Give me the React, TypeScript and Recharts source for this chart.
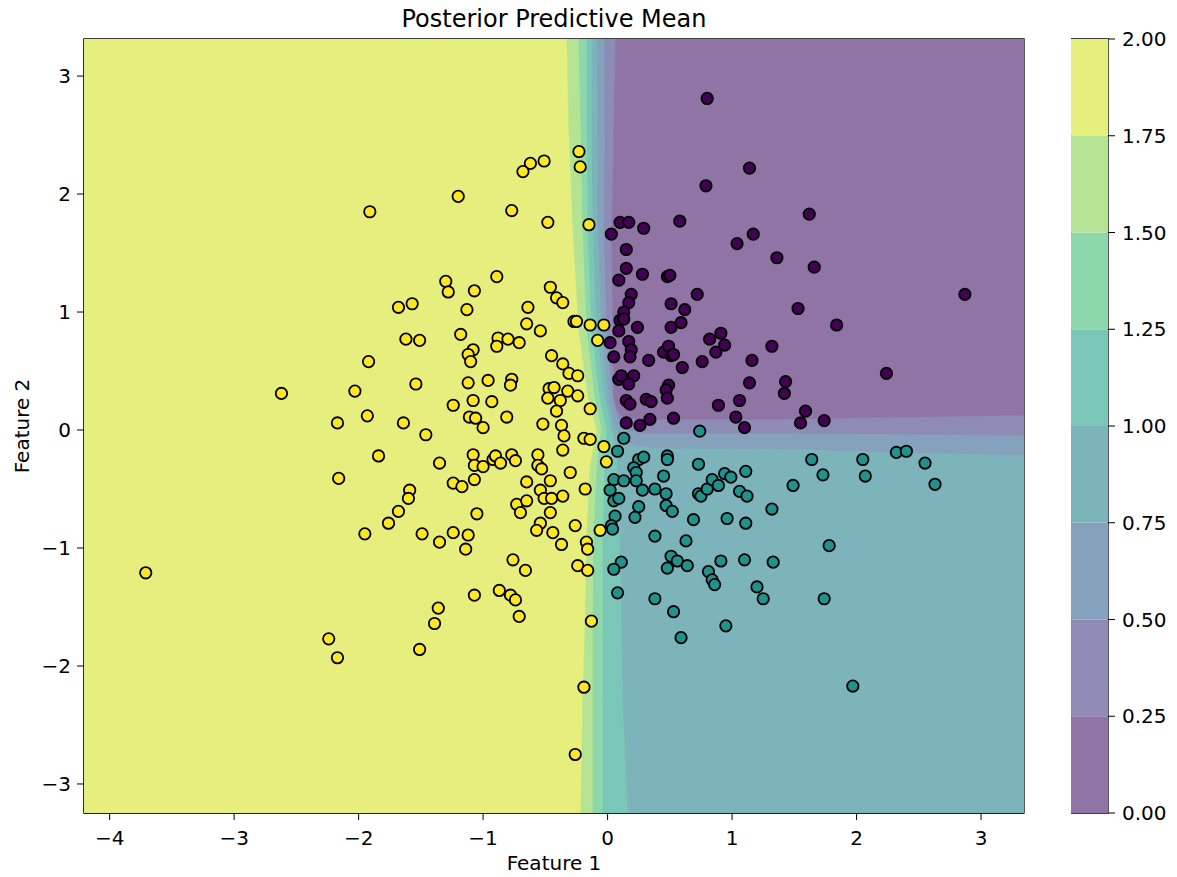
import {
  Bar, BarChart, ReferenceArea, Scatter, ScatterChart, XAxis, YAxis,
} from 'recharts'

// plot window (data units)
const X_MIN = -4.206
const X_MAX = 3.345
const Y_MIN = -3.246
const Y_MAX = 3.314

const xTicks = [-4, -3, -2, -1, 0, 1, 2, 3]
const yTicks = [-3, -2, -1, 0, 1, 2, 3]
const levels = [0, 0.25, 0.5, 0.75, 1, 1.25, 1.5, 1.75, 2]

// viridis band colours at alpha 0.6 over white, lowest band first
const bandColors = ['#9074a5', '#8e8cb6', '#85a1bb', '#7db4bb', '#7ac6b7', '#8cd7ab', '#b4e493', '#e6ee7d']
const classColors = ['#440154', '#21918c', '#fde725']

// contour lines of the predictive mean, top to bottom
const level175 = [[-0.326, 3.314], [-0.310, 2.542], [-0.278, 1.695], [-0.230, 0.847], [-0.157, 0.280], [-0.085, 0], [-0.101, -0.085], [-0.141, -0.314], [-0.165, -0.873], [-0.182, -1.720], [-0.198, -2.288], [-0.214, -3.246]]
const level150 = [[-0.230, 3.314], [-0.214, 2.542], [-0.198, 1.695], [-0.165, 0.847], [-0.101, 0.280], [-0.045, 0], [-0.061, -0.085], [-0.085, -0.314], [-0.109, -0.873], [-0.117, -1.720], [-0.117, -2.288], [-0.117, -3.246]]
const level125 = [[-0.165, 3.314], [-0.165, 2.542], [-0.157, 1.695], [-0.125, 0.847], [-0.061, 0.280], [-0.005, 0], [-0.005, -0.085], [-0.021, -0.314], [-0.037, -0.873], [-0.037, -1.720], [-0.037, -2.288], [-0.037, -3.246]]
const level100 = [[-0.125, 3.314], [-0.125, 2.542], [-0.117, 1.695], [-0.085, 0.847], [-0.021, 0.280], [0.035, 0], [0.076, -0.169], [0.084, -0.314], [0.100, -0.873], [0.116, -1.720], [0.124, -2.288], [0.164, -3.246]]
const level075 = [[-0.085, 3.314], [-0.077, 2.542], [-0.077, 1.695], [-0.045, 0.847], [0.011, 0.280], [0.043, 0.085], [0.100, -0.059], [0.196, -0.127], [0.421, -0.153], [1.545, -0.161], [2.349, -0.186], [3.345, -0.212]]
const level050 = [[-0.021, 3.314], [-0.021, 2.542], [-0.029, 1.695], [-0.005, 0.847], [0.043, 0.280], [0.076, 0.127], [0.124, 0.017], [0.260, -0.025], [1.385, -0.025], [2.349, -0.034], [3.345, -0.042]]
const level025 = [[0.067, 3.314], [0.051, 2.542], [0.035, 1.695], [0.043, 0.847], [0.051, 0.280], [0.076, 0.169], [0.124, 0.110], [0.260, 0.093], [1.385, 0.093], [2.349, 0.110], [3.345, 0.127]]

// observed points, one list per class
const class0 = [[0.80, 2.81], [1.14, 2.22], [0.79, 2.07], [1.62, 1.83], [0.58, 1.77], [0.10, 1.76], [0.17, 1.76], [0.03, 1.66], [0.29, 1.71], [1.17, 1.66],
  [1.04, 1.58], [1.36, 1.46], [1.66, 1.38], [0.15, 1.53], [0.15, 1.37], [0.09, 1.27], [0.28, 1.32], [0.48, 1.30], [0.50, 1.31], [0.72, 1.15],
  [0.19, 1.15], [0.17, 1.08], [0.51, 1.07], [0.62, 1.02], [0.13, 1.00], [0.10, 0.93], [0.13, 0.94], [1.53, 1.03], [1.84, 0.89], [0.59, 0.91],
  [0.51, 0.87], [0.24, 0.87], [0.09, 0.84], [0.02, 0.74], [0.17, 0.75], [0.19, 0.68], [0.18, 0.62], [0.05, 0.62], [0.33, 0.59], [0.45, 0.66],
  [0.49, 0.71], [0.51, 0.63], [0.53, 0.64], [0.60, 0.53], [0.76, 0.58], [0.82, 0.77], [0.91, 0.82], [0.94, 0.72], [0.87, 0.66], [1.16, 0.59],
  [1.32, 0.71], [0.09, 0.43], [0.11, 0.46], [0.21, 0.46], [0.17, 0.39], [0.49, 0.38], [0.47, 0.34], [0.48, 0.27], [0.31, 0.26], [0.35, 0.24],
  [0.15, 0.25], [0.18, 0.22], [1.14, 0.40], [1.43, 0.41], [1.42, 0.31], [0.89, 0.21], [1.06, 0.25], [1.59, 0.16], [0.15, 0.06], [0.26, 0.04],
  [0.34, 0.09], [0.53, 0.10], [1.03, 0.11], [1.10, 0.02], [1.55, 0.06], [1.74, 0.08], [2.87, 1.15], [2.24, 0.48]]

const class1 = [[0.74, -0.01], [0.13, -0.07], [0.08, -0.18], [0.25, -0.25], [0.29, -0.23], [0.48, -0.22], [0.48, -0.25], [0.21, -0.32], [0.23, -0.36], [0.23, -0.43],
  [0.05, -0.42], [0.13, -0.43], [0.02, -0.51], [0.05, -0.60], [0.09, -0.58], [0.28, -0.51], [0.38, -0.50], [0.45, -0.39], [0.47, -0.54], [0.47, -0.64],
  [0.52, -0.69], [0.25, -0.65], [0.22, -0.74], [0.06, -0.73], [0.03, -0.81], [0.04, -0.84], [0.73, -0.29], [0.73, -0.54], [0.75, -0.56], [0.80, -0.50],
  [0.84, -0.42], [0.89, -0.47], [0.94, -0.37], [0.99, -0.40], [1.11, -0.35], [1.06, -0.52], [1.12, -0.56], [0.69, -0.76], [0.96, -0.75], [1.11, -0.79],
  [1.32, -0.67], [1.49, -0.47], [1.64, -0.25], [1.73, -0.38], [0.38, -0.90], [0.63, -0.94], [0.51, -1.07], [0.56, -1.11], [0.48, -1.17], [0.64, -1.15],
  [0.81, -1.20], [0.84, -1.27], [0.86, -1.31], [0.91, -1.11], [1.10, -1.10], [1.33, -1.12], [1.78, -0.98], [0.11, -1.12], [0.05, -1.18], [0.08, -1.38],
  [0.38, -1.43], [1.20, -1.33], [1.25, -1.43], [1.74, -1.43], [0.53, -1.54], [0.95, -1.66], [0.59, -1.76], [1.97, -2.17], [2.05, -0.25], [2.07, -0.39],
  [2.32, -0.19], [2.40, -0.18], [2.55, -0.28], [2.63, -0.46]]

const class2 = [[-0.23, 2.36], [-0.22, 2.23], [-0.62, 2.26], [-0.51, 2.28], [-0.68, 2.19], [-1.20, 1.98], [-0.77, 1.86], [-0.48, 1.76], [-0.15, 1.74],
  [-1.30, 1.26], [-1.28, 1.17], [-0.89, 1.30], [-1.07, 1.18], [-0.46, 1.21], [-0.41, 1.12], [-0.36, 1.08], [-1.68, 1.04], [-1.57, 1.07], [-1.13, 1.02], [-0.64, 1.04],
  [-0.65, 0.90], [-0.54, 0.84], [-0.27, 0.92], [-0.25, 0.92], [-0.14, 0.89], [-0.03, 0.89], [-0.08, 0.76], [-1.18, 0.81], [-1.62, 0.77], [-1.51, 0.76],
  [-0.88, 0.78], [-0.80, 0.77], [-0.71, 0.74], [-0.89, 0.71], [-1.08, 0.68], [-1.12, 0.64], [-1.10, 0.58], [-0.45, 0.63], [-0.36, 0.56], [-0.31, 0.48],
  [-0.24, 0.46], [-1.54, 0.39], [-1.12, 0.40], [-0.96, 0.42], [-0.77, 0.43], [-0.78, 0.38], [-0.47, 0.35], [-0.43, 0.36], [-0.32, 0.33], [-0.24, 0.29],
  [-0.48, 0.27], [-0.38, 0.25], [-1.08, 0.25], [-0.93, 0.24], [-1.24, 0.21], [-0.41, 0.16], [-0.14, 0.18], [-1.64, 0.06], [-1.11, 0.11], [-1.06, 0.10],
  [-1.00, 0.02], [-0.81, 0.11], [-0.52, 0.05], [-0.37, 0.04], [-1.46, -0.04], [-0.35, -0.05], [-0.19, -0.07], [-0.14, -0.08],
  [-0.03, -0.14], [-0.01, -0.27], [-1.35, -0.28], [-1.08, -0.21], [-1.07, -0.30], [-1.00, -0.31], [-0.92, -0.25], [-0.90, -0.22], [-0.86, -0.28], [-0.77, -0.21],
  [-0.74, -0.26], [-0.56, -0.21], [-0.56, -0.30], [-0.53, -0.33], [-0.36, -0.17], [-0.30, -0.36], [-1.24, -0.45], [-1.17, -0.48], [-1.07, -0.42], [-0.65, -0.44],
  [-0.46, -0.43], [-0.54, -0.51], [-0.51, -0.58], [-0.45, -0.58], [-0.36, -0.56], [-0.18, -0.50], [-1.59, -0.51], [-1.60, -0.58], [-1.68, -0.69], [-1.76, -0.79],
  [-1.05, -0.71], [-0.73, -0.63], [-0.65, -0.60], [-0.70, -0.70], [-0.46, -0.70], [-1.49, -0.88], [-1.35, -0.95], [-1.24, -0.87], [-1.12, -0.89], [-1.14, -1.01],
  [-0.54, -0.79], [-0.57, -0.85], [-0.44, -0.87], [-0.37, -0.97], [-0.26, -0.81], [-0.06, -0.85], [-0.17, -0.95], [-0.16, -1.01], [-0.76, -1.10], [-0.66, -1.19],
  [-0.24, -1.15], [-0.16, -1.19], [-1.07, -1.40], [-0.87, -1.36], [-0.78, -1.40], [-0.74, -1.44], [-0.71, -1.58], [-1.36, -1.51], [-1.39, -1.64], [-1.51, -1.86],
  [-0.13, -1.62], [-0.19, -2.18], [-0.26, -2.75],
  [-1.91, 1.85], [-1.92, 0.58], [-2.62, 0.31], [-2.03, 0.33], [-1.93, 0.12], [-2.17, 0.06], [-1.84, -0.22], [-2.16, -0.41], [-1.95, -0.88], [-3.71, -1.21], [-2.24, -1.77], [-2.17, -1.93]]

const toXY = (pts: number[][]) => pts.map(([x, y]) => ({ x, y }))

// filled regions {mean < level}, drawn from the highest level down
const fullRect = [[X_MIN, Y_MAX], [X_MIN, Y_MIN], [X_MAX, Y_MIN], [X_MAX, Y_MAX]]
const rightOf = (curve: number[][]) => [...curve, [X_MAX, Y_MIN], [X_MAX, Y_MAX]]
const above = (curve: number[][]) => [...curve, [X_MAX, Y_MAX]]
const regions = [
  { color: bandColors[7], pts: fullRect },
  { color: bandColors[6], pts: rightOf(level175) },
  { color: bandColors[5], pts: rightOf(level150) },
  { color: bandColors[4], pts: rightOf(level125) },
  { color: bandColors[3], pts: rightOf(level100) },
  { color: bandColors[2], pts: above(level075) },
  { color: bandColors[1], pts: above(level050) },
  { color: bandColors[0], pts: above(level025) },
]

const colorbarRow: Record<string, any> = { name: 'cb' }
bandColors.forEach((_, i) => { colorbarRow[`b${i}`] = levels[i + 1] - levels[i] })
const colorbarData = [colorbarRow]

const fmt = (v: number) => (v < 0 ? `\u2212${Math.abs(v)}` : `${v}`)
const tickStyle = { fontSize: 20, fill: '#000' }

const polygonLine = (color: string) => (p: any) => (
  <path
    d={`M${p.points.map((q: any) => `${q.x},${q.y}`).join('L')}Z`}
    fill={color}
    stroke={color}
    strokeWidth={0.6}
  />
)
const hidden = () => <g />
const dot = (color: string) => (p: any) => (
  <circle cx={p.cx} cy={p.cy} r={5.7} fill={color} stroke="#000" strokeWidth={1.8} />
)

export default function App() {
  return (
    <div style={{ position: 'absolute', left: 0, top: 0, width: 1177, height: 877, background: '#fff', fontFamily: 'DejaVu Sans, sans-serif' }}>
      <div style={{ position: 'absolute', left: 84, width: 940, top: 7, textAlign: 'center', fontSize: 24, lineHeight: '24px', color: '#000' }}>
        Posterior Predictive Mean
      </div>
      <div style={{ position: 'absolute', left: 0, top: 0 }}>
        <ScatterChart width={1177} height={877} margin={{ top: 39, right: 153, bottom: 34, left: 24 }}>
          <XAxis
            type="number" dataKey="x" domain={[X_MIN, X_MAX]} ticks={xTicks} allowDataOverflow
            tickFormatter={fmt} tickSize={7} tickMargin={11} tick={tickStyle} stroke="#000" height={30}
            label={{ value: 'Feature 1', position: 'bottom', offset: 13, fill: '#000', fontSize: 20 }}
          />
          <YAxis
            type="number" dataKey="y" domain={[Y_MIN, Y_MAX]} ticks={yTicks} allowDataOverflow
            tickFormatter={fmt} tickSize={7} tickMargin={6} tick={tickStyle} stroke="#000" width={60}
            label={{ value: 'Feature 2', angle: -90, position: 'insideLeft', offset: -2, fill: '#000', fontSize: 20, style: { textAnchor: 'middle' } }}
          />
          {regions.map((r, i) => (
            <Scatter
              key={`region-${i}`}
              data={toXY(r.pts)}
              line={polygonLine(r.color)}
              lineType="joint"
              shape={hidden}
              fill={r.color}
              legendType="none"
              isAnimationActive={false}
            />
          ))}
          <Scatter data={toXY(class2)} shape={dot(classColors[2])} fill={classColors[2]} isAnimationActive={false} />
          <Scatter data={toXY(class0)} shape={dot(classColors[0])} fill={classColors[0]} isAnimationActive={false} />
          <Scatter data={toXY(class1)} shape={dot(classColors[1])} fill={classColors[1]} isAnimationActive={false} />
          <ReferenceArea x1={X_MIN} x2={X_MAX} y1={Y_MIN} y2={Y_MAX} fill="none" stroke="#000" strokeWidth={1.3} />
        </ScatterChart>
      </div>
      <div style={{ position: 'absolute', left: 1071, top: 0 }}>
        <BarChart width={106} height={877} data={colorbarData} margin={{ top: 39, right: 0, bottom: 64, left: 0 }} barCategoryGap={0}>
          <XAxis dataKey="name" hide />
          <YAxis
            orientation="right" type="number" domain={[0, 2]} ticks={levels} allowDataOverflow
            tickFormatter={(v: number) => v.toFixed(2)} tickSize={7} tickMargin={7}
            tick={tickStyle} stroke="#000" axisLine={false} width={69}
          />
          {bandColors.map((c, i) => (
            <Bar key={`b${i}`} dataKey={`b${i}`} stackId="cb" fill={c} isAnimationActive={false} />
          ))}
          <ReferenceArea y1={0} y2={2} fill="none" stroke="#000" strokeWidth={1.3} />
        </BarChart>
      </div>
    </div>
  )
}
